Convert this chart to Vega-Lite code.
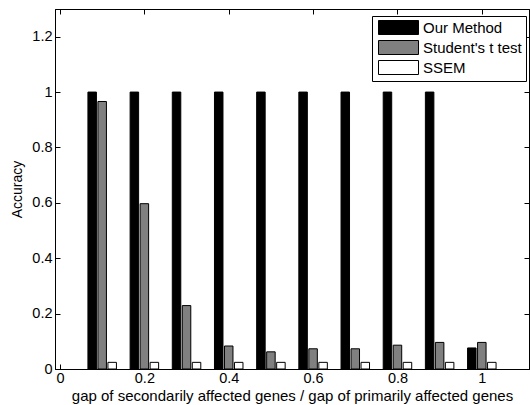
{
  "$schema": "https://vega.github.io/schema/vega-lite/v6.json",
  "width": 474,
  "height": 360,
  "autosize": {"type": "none"},
  "padding": {"left": 55, "top": 9, "right": 1, "bottom": 36},
  "background": "white",
  "config": {
    "view": {"stroke": "black", "strokeWidth": 1},
    "font": "Liberation Sans",
    "axis": {
      "grid": false,
      "domainColor": "black",
      "tickColor": "black",
      "labelColor": "black",
      "titleColor": "black",
      "labelFont": "Liberation Sans",
      "titleFont": "Liberation Sans",
      "labelFontSize": 14.5,
      "titleFontWeight": "normal",
      "tickSize": -5,
      "labelFlush": false,
      "labelOverlap": false
    }
  },
  "data": {
    "values": [
      {"g": 0.1, "method": "Our Method", "acc": 1},
      {"g": 0.2, "method": "Our Method", "acc": 1},
      {"g": 0.3, "method": "Our Method", "acc": 1},
      {"g": 0.4, "method": "Our Method", "acc": 1},
      {"g": 0.5, "method": "Our Method", "acc": 1},
      {"g": 0.6, "method": "Our Method", "acc": 1},
      {"g": 0.7, "method": "Our Method", "acc": 1},
      {"g": 0.8, "method": "Our Method", "acc": 1},
      {"g": 0.9, "method": "Our Method", "acc": 1},
      {"g": 1.0, "method": "Our Method", "acc": 0.076},
      {"g": 0.1, "method": "Student's t test", "acc": 0.966},
      {"g": 0.2, "method": "Student's t test", "acc": 0.597},
      {"g": 0.3, "method": "Student's t test", "acc": 0.229},
      {"g": 0.4, "method": "Student's t test", "acc": 0.083},
      {"g": 0.5, "method": "Student's t test", "acc": 0.062},
      {"g": 0.6, "method": "Student's t test", "acc": 0.073},
      {"g": 0.7, "method": "Student's t test", "acc": 0.073},
      {"g": 0.8, "method": "Student's t test", "acc": 0.086},
      {"g": 0.9, "method": "Student's t test", "acc": 0.096},
      {"g": 1.0, "method": "Student's t test", "acc": 0.096},
      {"g": 0.1, "method": "SSEM", "acc": 0.024},
      {"g": 0.2, "method": "SSEM", "acc": 0.024},
      {"g": 0.3, "method": "SSEM", "acc": 0.024},
      {"g": 0.4, "method": "SSEM", "acc": 0.024},
      {"g": 0.5, "method": "SSEM", "acc": 0.024},
      {"g": 0.6, "method": "SSEM", "acc": 0.024},
      {"g": 0.7, "method": "SSEM", "acc": 0.024},
      {"g": 0.8, "method": "SSEM", "acc": 0.024},
      {"g": 0.9, "method": "SSEM", "acc": 0.024},
      {"g": 1.0, "method": "SSEM", "acc": 0.024}
    ]
  },
  "layer": [
    {
      "layer": [
        {
          "transform": [{"filter": "datum.method === 'Our Method'"}],
          "mark": {"type": "bar", "orient": "vertical", "width": 8.5, "xOffset": -10, "stroke": "black", "strokeWidth": 1},
          "encoding": {
            "x": {
              "field": "g", "type": "quantitative",
              "scale": {"domain": [0, 1.1], "nice": false, "zero": true},
              "axis": {
                "orient": "bottom",
                "values": [0, 0.2, 0.4, 0.6, 0.8, 1],
                "format": "~g",
                "labelPadding": 7,
                "title": "gap of secondarily affected genes / gap of primarily affected genes",
                "titleFontSize": 15,
                "titleBaseline": "alphabetic",
                "titleY": 31
              }
            },
            "y": {
              "field": "acc", "type": "quantitative", "stack": null,
              "scale": {"domain": [0, 1.3], "nice": false},
              "axis": {
                "orient": "left",
                "values": [0, 0.2, 0.4, 0.6, 0.8, 1, 1.2],
                "format": "~g",
                "labelPadding": 8,
                "title": "Accuracy",
                "titleFontSize": 14,
                "titleBaseline": "alphabetic",
                "titleX": -34
              }
            },
            "color": {
              "field": "method", "type": "nominal",
              "scale": {"domain": ["Our Method", "Student's t test", "SSEM"], "range": ["#000000", "#808080", "#ffffff"]},
              "legend": {
                "title": null,
                "orient": "none",
                "legendX": 317,
                "legendY": 7,
                "strokeColor": "black",
                "fillColor": "white",
                "padding": 4,
                "symbolType": "M-0.714,-1H5V1H-0.714Z",
                "symbolSize": 196,
                "symbolStrokeColor": "black",
                "symbolStrokeWidth": 1,
                "symbolOpacity": 1,
                "labelFontSize": 15,
                "labelFont": "Liberation Sans",
                "labelColor": "black",
                "labelOffset": 32,
                "rowPadding": 1
              }
            }
          }
        },
        {
          "transform": [{"filter": "datum.method === \"Student's t test\""}],
          "mark": {"type": "bar", "orient": "vertical", "width": 8.5, "xOffset": 0, "stroke": "black", "strokeWidth": 1},
          "encoding": {
            "x": {"field": "g", "type": "quantitative"},
            "y": {"field": "acc", "type": "quantitative", "stack": null},
            "color": {"field": "method", "type": "nominal"}
          }
        },
        {
          "transform": [{"filter": "datum.method === 'SSEM'"}],
          "mark": {"type": "bar", "orient": "vertical", "width": 8.5, "xOffset": 10, "stroke": "black", "strokeWidth": 1},
          "encoding": {
            "x": {"field": "g", "type": "quantitative"},
            "y": {"field": "acc", "type": "quantitative", "stack": null},
            "color": {"field": "method", "type": "nominal"}
          }
        }
      ]
    },
    {
      "mark": {"type": "bar", "orient": "vertical", "opacity": 0},
      "encoding": {
        "x": {
          "field": "g", "type": "quantitative",
          "axis": {"orient": "top", "labels": false, "title": null, "values": [0, 0.2, 0.4, 0.6, 0.8, 1]}
        },
        "y": {
          "field": "acc", "type": "quantitative", "stack": null,
          "axis": {"orient": "right", "labels": false, "title": null, "values": [0, 0.2, 0.4, 0.6, 0.8, 1, 1.2]}
        }
      }
    }
  ],
  "resolve": {"axis": {"x": "independent", "y": "independent"}}
}
